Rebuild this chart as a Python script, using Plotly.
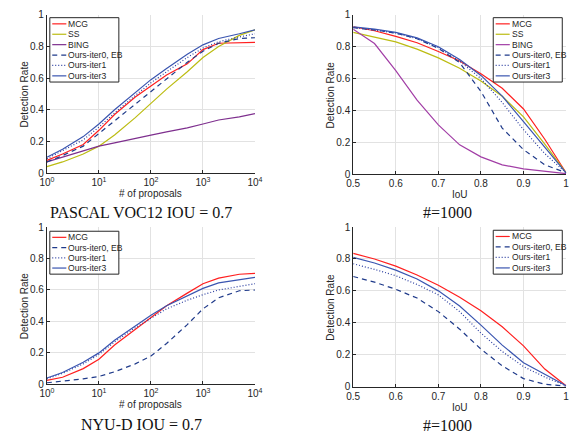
import plotly.graph_objects as go

W, H = 580, 443

# ---------------- data ----------------
proposals = [1, 2, 5, 10, 20, 50, 100, 200, 500, 1000, 2000, 5000, 10000]
iou = [0.5, 0.55, 0.6, 0.65, 0.7, 0.75, 0.8, 0.85, 0.9, 0.95, 1.0]

# PASCAL VOC12, IoU = 0.7 (detection rate vs # proposals)
voc_prop_mcg = [0.08, 0.12, 0.18, 0.27, 0.37, 0.48, 0.55, 0.62, 0.69, 0.78, 0.82, 0.825, 0.825]
voc_prop_ss = [0.04, 0.07, 0.12, 0.17, 0.24, 0.35, 0.44, 0.53, 0.64, 0.73, 0.80, 0.87, 0.905]
voc_prop_bing = [0.07, 0.10, 0.14, 0.17, 0.19, 0.22, 0.24, 0.26, 0.285, 0.31, 0.335, 0.355, 0.375]
voc_prop_iter0 = [0.07, 0.11, 0.17, 0.25, 0.33, 0.44, 0.52, 0.60, 0.70, 0.77, 0.82, 0.85, 0.855]
voc_prop_iter1 = [0.09, 0.14, 0.21, 0.29, 0.38, 0.49, 0.57, 0.64, 0.73, 0.79, 0.83, 0.86, 0.88]
voc_prop_iter3 = [0.10, 0.15, 0.23, 0.31, 0.40, 0.51, 0.59, 0.66, 0.75, 0.81, 0.85, 0.88, 0.905]

# PASCAL VOC12, #=1000 (detection rate vs IoU)
voc_iou_mcg = [0.925, 0.90, 0.865, 0.825, 0.77, 0.71, 0.63, 0.54, 0.41, 0.22, 0.01]
voc_iou_ss = [0.89, 0.86, 0.83, 0.785, 0.73, 0.665, 0.585, 0.49, 0.36, 0.19, 0.01]
voc_iou_bing = [0.91, 0.82, 0.65, 0.465, 0.31, 0.185, 0.11, 0.06, 0.035, 0.02, 0.005]
voc_iou_iter0 = [0.92, 0.905, 0.885, 0.85, 0.79, 0.70, 0.52, 0.29, 0.155, 0.06, 0.01]
voc_iou_iter1 = [0.92, 0.905, 0.885, 0.85, 0.795, 0.71, 0.60, 0.45, 0.28, 0.13, 0.01]
voc_iou_iter3 = [0.925, 0.91, 0.89, 0.855, 0.80, 0.72, 0.62, 0.49, 0.33, 0.17, 0.01]

# NYU-D, IoU = 0.7
nyu_prop_mcg = [0.025, 0.045, 0.10, 0.16, 0.25, 0.35, 0.43, 0.50, 0.58, 0.64, 0.675, 0.70, 0.705]
nyu_prop_iter0 = [0.01, 0.02, 0.035, 0.05, 0.08, 0.13, 0.18, 0.26, 0.38, 0.48, 0.55, 0.595, 0.60]
nyu_prop_iter1 = [0.035, 0.07, 0.13, 0.19, 0.27, 0.36, 0.42, 0.48, 0.535, 0.57, 0.60, 0.625, 0.64]
nyu_prop_iter3 = [0.04, 0.075, 0.14, 0.20, 0.28, 0.37, 0.44, 0.50, 0.56, 0.61, 0.645, 0.665, 0.68]

# NYU-D, #=1000
nyu_iou_mcg = [0.835, 0.80, 0.755, 0.70, 0.635, 0.56, 0.475, 0.375, 0.255, 0.11, 0.005]
nyu_iou_iter0 = [0.69, 0.655, 0.61, 0.555, 0.47, 0.36, 0.235, 0.13, 0.05, 0.015, 0.002]
nyu_iou_iter1 = [0.77, 0.735, 0.695, 0.64, 0.575, 0.47, 0.335, 0.22, 0.125, 0.06, 0.005]
nyu_iou_iter3 = [0.81, 0.775, 0.73, 0.675, 0.60, 0.505, 0.385, 0.26, 0.15, 0.075, 0.005]

series_names = ["MCG", "SS", "BING", "Ours-iter0, EB", "Ours-iter1", "Ours-iter3"]
captions = ["PASCAL VOC12 IOU = 0.7", "#=1000", "NYU-D IOU = 0.7", "#=1000"]
log_tickvals = [1, 10, 100, 1000, 10000]
log_ticktext = ["10<sup>0</sup>", "10<sup>1</sup>", "10<sup>2</sup>", "10<sup>3</sup>", "10<sup>4</sup>"]
iou_tickvals = [0.5, 0.6, 0.7, 0.8, 0.9, 1.0]
iou_ticktext = ["0.5", "0.6", "0.7", "0.8", "0.9", "1"]
rate_tickvals = [0, 0.2, 0.4, 0.6, 0.8, 1.0]
rate_ticktext = ["0", "0.2", "0.4", "0.6", "0.8", "1"]

# ---------------- styles ----------------
STY = {
    "MCG": dict(color="#ff1f1f", dash="solid"),
    "SS": dict(color="#bcbc12", dash="solid"),
    "BING": dict(color="#7e2f8e", dash="solid"),
    "Ours-iter0, EB": dict(color="#1f3a8a", dash="5px,4px"),
    "Ours-iter1": dict(color="#2a3da0", dash="1px,2px"),
    "Ours-iter3": dict(color="#3a55b0", dash="solid"),
}
BING_RIGHT = "#a23ea6"
AX = "#262626"
GRID = "#e2e2e2"
SANS = "Liberation Sans, Arial, sans-serif"
SERIF = "Liberation Serif, Times New Roman, serif"


def px(x):
    return x / W


def py(y):
    return 1 - y / H


fig = go.Figure()


def add(xs, ys, name, ax, color=None):
    st = STY[name]
    fig.add_trace(go.Scatter(
        x=xs, y=ys, mode="lines", name=name, showlegend=False,
        line=dict(color=color or st["color"], dash=st["dash"], width=1.2),
        xaxis="x" + ("" if ax == 1 else str(ax)),
        yaxis="y" + ("" if ax == 1 else str(ax)),
    ))


# panel 1
for n, v in zip(series_names, [voc_prop_mcg, voc_prop_ss, voc_prop_bing,
                               voc_prop_iter0, voc_prop_iter1, voc_prop_iter3]):
    add(proposals, v, n, 1)
# panel 2
for n, v in zip(series_names, [voc_iou_mcg, voc_iou_ss, voc_iou_bing,
                               voc_iou_iter0, voc_iou_iter1, voc_iou_iter3]):
    add(iou, v, n, 2, BING_RIGHT if n == "BING" else None)
# panel 3
nyu_names = ["MCG", "Ours-iter0, EB", "Ours-iter1", "Ours-iter3"]
for n, v in zip(nyu_names, [nyu_prop_mcg, nyu_prop_iter0, nyu_prop_iter1, nyu_prop_iter3]):
    add(proposals, v, n, 3)
# panel 4
for n, v in zip(nyu_names, [nyu_iou_mcg, nyu_iou_iter0, nyu_iou_iter1, nyu_iou_iter3]):
    add(iou, v, n, 4)

# ---------------- axes ----------------
panels = {
    1: dict(x=(40, 254), y=(10, 172.3), log=True),
    2: dict(x=(355, 574), y=(10, 173.7), log=False),
    3: dict(x=(40, 254), y=(227.7, 389), log=True),
    4: dict(x=(355, 574), y=(227.7, 391.3), log=False),
}
common = dict(showline=True, linecolor=AX, linewidth=1, mirror=False,
              ticks="inside", ticklen=3, tickcolor=AX, tickwidth=1,
              showgrid=True, gridcolor=GRID, gridwidth=1, zeroline=False,
              ticklabeloverflow="allow",
              tickfont=dict(family=SANS, size=10, color=AX))
layout_axes = {}
for k, p in panels.items():
    sx = "" if k == 1 else str(k)
    xa = dict(common, domain=[px(p["x"][0]), px(p["x"][1])],
              anchor="y" + sx)
    if p["log"]:
        xa.update(type="log", range=[0, 4.0002], tickvals=log_tickvals, ticktext=log_ticktext)
    else:
        xa.update(range=[0.5, 1.0002], tickvals=iou_tickvals, ticktext=iou_ticktext)
    ya = dict(common, domain=[py(p["y"][1]), py(p["y"][0])], anchor="x" + sx,
              range=[0, 1.0002], tickvals=rate_tickvals, ticktext=rate_ticktext)
    layout_axes["xaxis" + sx] = xa
    layout_axes["yaxis" + sx] = ya

fig.update_layout(**layout_axes)

shapes = []
annotations = []

# axis labels and captions
label_font = dict(family=SANS, size=10, color=AX)
for k, p in panels.items():
    xc = (p["x"][0] + p["x"][1]) / 2
    ybot = p["y"][1]
    annotations.append(dict(
        x=px(xc), y=py(ybot + 21), xref="paper", yref="paper",
        text="# of proposals" if p["log"] else "IoU", showarrow=False,
        font=label_font, xanchor="center", yanchor="middle"))
    annotations.append(dict(
        x=px(p["x"][0] - 23), y=py((p["y"][0] + p["y"][1]) / 2), xref="paper", yref="paper",
        text="Detection Rate", textangle=-90, showarrow=False,
        font=label_font, xanchor="center", yanchor="middle"))

caption_pos = [(136.5, 213), (451.5, 213), (137, 430), (451.5, 431)]
for t, (cx, cy) in zip(captions, caption_pos):
    annotations.append(dict(
        x=px(cx), y=py(cy), xref="paper", yref="paper", text=t, showarrow=False,
        font=dict(family=SERIF, size=16, color="#111111"),
        xanchor="center", yanchor="middle"))

# legends
legend_specs = [
    dict(box=(43, 13, 114, 79), names=series_names, bing=STY["BING"]["color"]),
    dict(box=(499, 13, 570, 79), names=series_names, bing=BING_RIGHT),
    dict(box=(43, 232, 114, 276), names=nyu_names, bing=None),
    dict(box=(499, 231, 570, 276), names=nyu_names, bing=None),
]
for spec in legend_specs:
    x0, y0, x1, y1 = spec["box"]
    shapes.append(dict(type="rect", xref="paper", yref="paper",
                       x0=px(x0), x1=px(x1), y0=py(y1), y1=py(y0),
                       line=dict(color=AX, width=1), fillcolor="white", layer="above"))
    n = len(spec["names"])
    step = (y1 - y0 - 2) / n
    for i, name in enumerate(spec["names"]):
        yc = y0 + 1 + step * (i + 0.5)
        col = spec["bing"] if name == "BING" else STY[name]["color"]
        shapes.append(dict(type="line", xref="paper", yref="paper",
                           x0=px(x0 + 2.5), x1=px(x0 + 17), y0=py(yc), y1=py(yc),
                           line=dict(color=col, width=1.2, dash=STY[name]["dash"]),
                           layer="above"))
        annotations.append(dict(
            x=px(x0 + 17), y=py(yc), xref="paper", yref="paper", text=name,
            showarrow=False, font=dict(family=SANS, size=8.6, color=AX),
            xanchor="left", yanchor="middle"))

fig.update_layout(
    width=W, height=H, margin=dict(l=0, r=0, t=0, b=0),
    paper_bgcolor="white", plot_bgcolor="white",
    showlegend=False, shapes=shapes, annotations=annotations,
)

fig.write_html("out.html", config={"displayModeBar": False},
               post_script="document.body.style.margin='0';document.body.style.overflow='hidden';")
